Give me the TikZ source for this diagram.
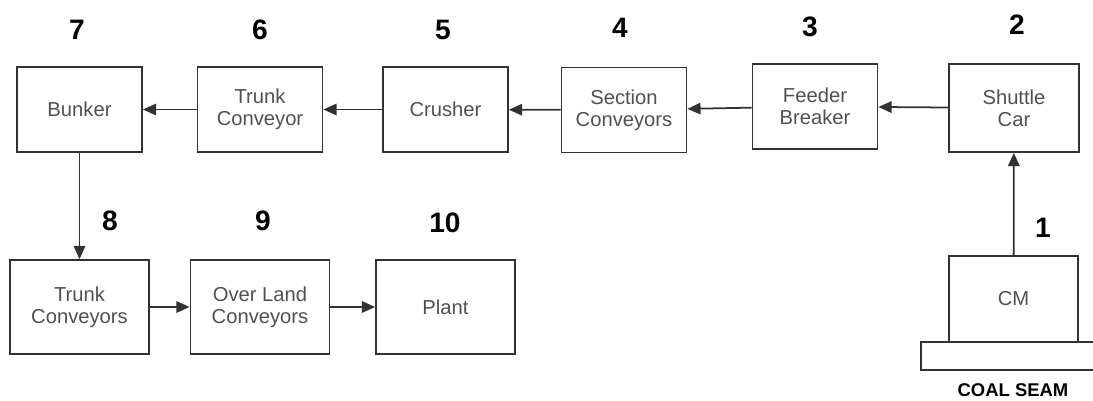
\documentclass[tikz,border=0pt]{standalone}
\usepackage{fontspec}
\setmainfont{Liberation Sans}
\usetikzlibrary{arrows.meta,positioning}
\definecolor{lnline}{RGB}{50,50,50}
\definecolor{lntext}{RGB}{80,80,80}
\tikzset{
  blk/.style={draw=lnline, line width=1pt, minimum width=2.5cm, minimum height=1.7cm,
              align=center, text=lntext, font=\fontsize{11.5}{12.5}\selectfont, inner sep=2pt},
  bigblk/.style={blk, minimum width=2.78cm, minimum height=1.88cm},
  num/.style={font=\fontsize{16}{16}\bfseries\selectfont, text=black, inner sep=1pt},
  flow/.style={-{Triangle[length=7.5pt,width=6.5pt]}, draw=lnline, line width=1pt},
}
\begin{document}
\begin{tikzpicture}[x=0.02cm, y=-0.02cm]
\useasboundingbox (0,0) rectangle (1093,400);

% Top row
\node[blk] (bunker) at (79.5,109.5) {Bunker};
\node[blk] (trunk) at (260,109.5) {Trunk\\Conveyor};
\node[blk] (crusher) at (445.5,109.5) {Crusher};
\node[blk] (section) at (624,110) {Section\\Conveyors};
\node[blk] (feeder) at (815,106.5) {Feeder\\Breaker};
\node[blk, minimum width=2.6cm, minimum height=1.76cm] (shuttle) at (1014,108) {Shuttle\\Car};

% Bottom row
\node[bigblk] (trunks) at (79.5,307) {Trunk\\Conveyors};
\node[bigblk] (overland) at (260,307) {Over Land\\Conveyors};
\node[bigblk] (plant) at (445.5,307) {Plant};

% Continuous miner on the seam
\node[blk, minimum width=2.58cm, minimum height=1.72cm] (cm) at (1013.5,299) {CM};
\draw[draw=lnline, line width=1pt] (921,342) rectangle (1100,370);
\node[font=\fontsize{10.5}{10.5}\bfseries\selectfont, inner sep=0pt] (seam) at (1013,390) {COAL SEAM};

% Step numbers
\node[num] (n1) at (1043,228) {1};
\node[num] (n2) at (1017,25) {2};
\node[num] (n3) at (810,27) {3};
\node[num] (n4) at (620,28) {4};
\node[num] (n5) at (443,30) {5};
\node[num] (n6) at (260,30) {6};
\node[num] (n7) at (77,30) {7};
\node[num] (n8) at (110,221) {8};
\node[num] (n9) at (263,221) {9};
\node[num] (n10) at (445,223) {10};

% Flow
\draw[flow] (cm) -- (shuttle);
\draw[flow] (shuttle) -- (feeder);
\draw[flow] (feeder) -- (section);
\draw[flow] (section) -- (crusher);
\draw[flow] (crusher) -- (trunk);
\draw[flow] (trunk) -- (bunker);
\draw[flow] (bunker) -- (trunks);
\draw[flow] (trunks) -- (overland);
\draw[flow] (overland) -- (plant);

\end{tikzpicture}
\end{document}
